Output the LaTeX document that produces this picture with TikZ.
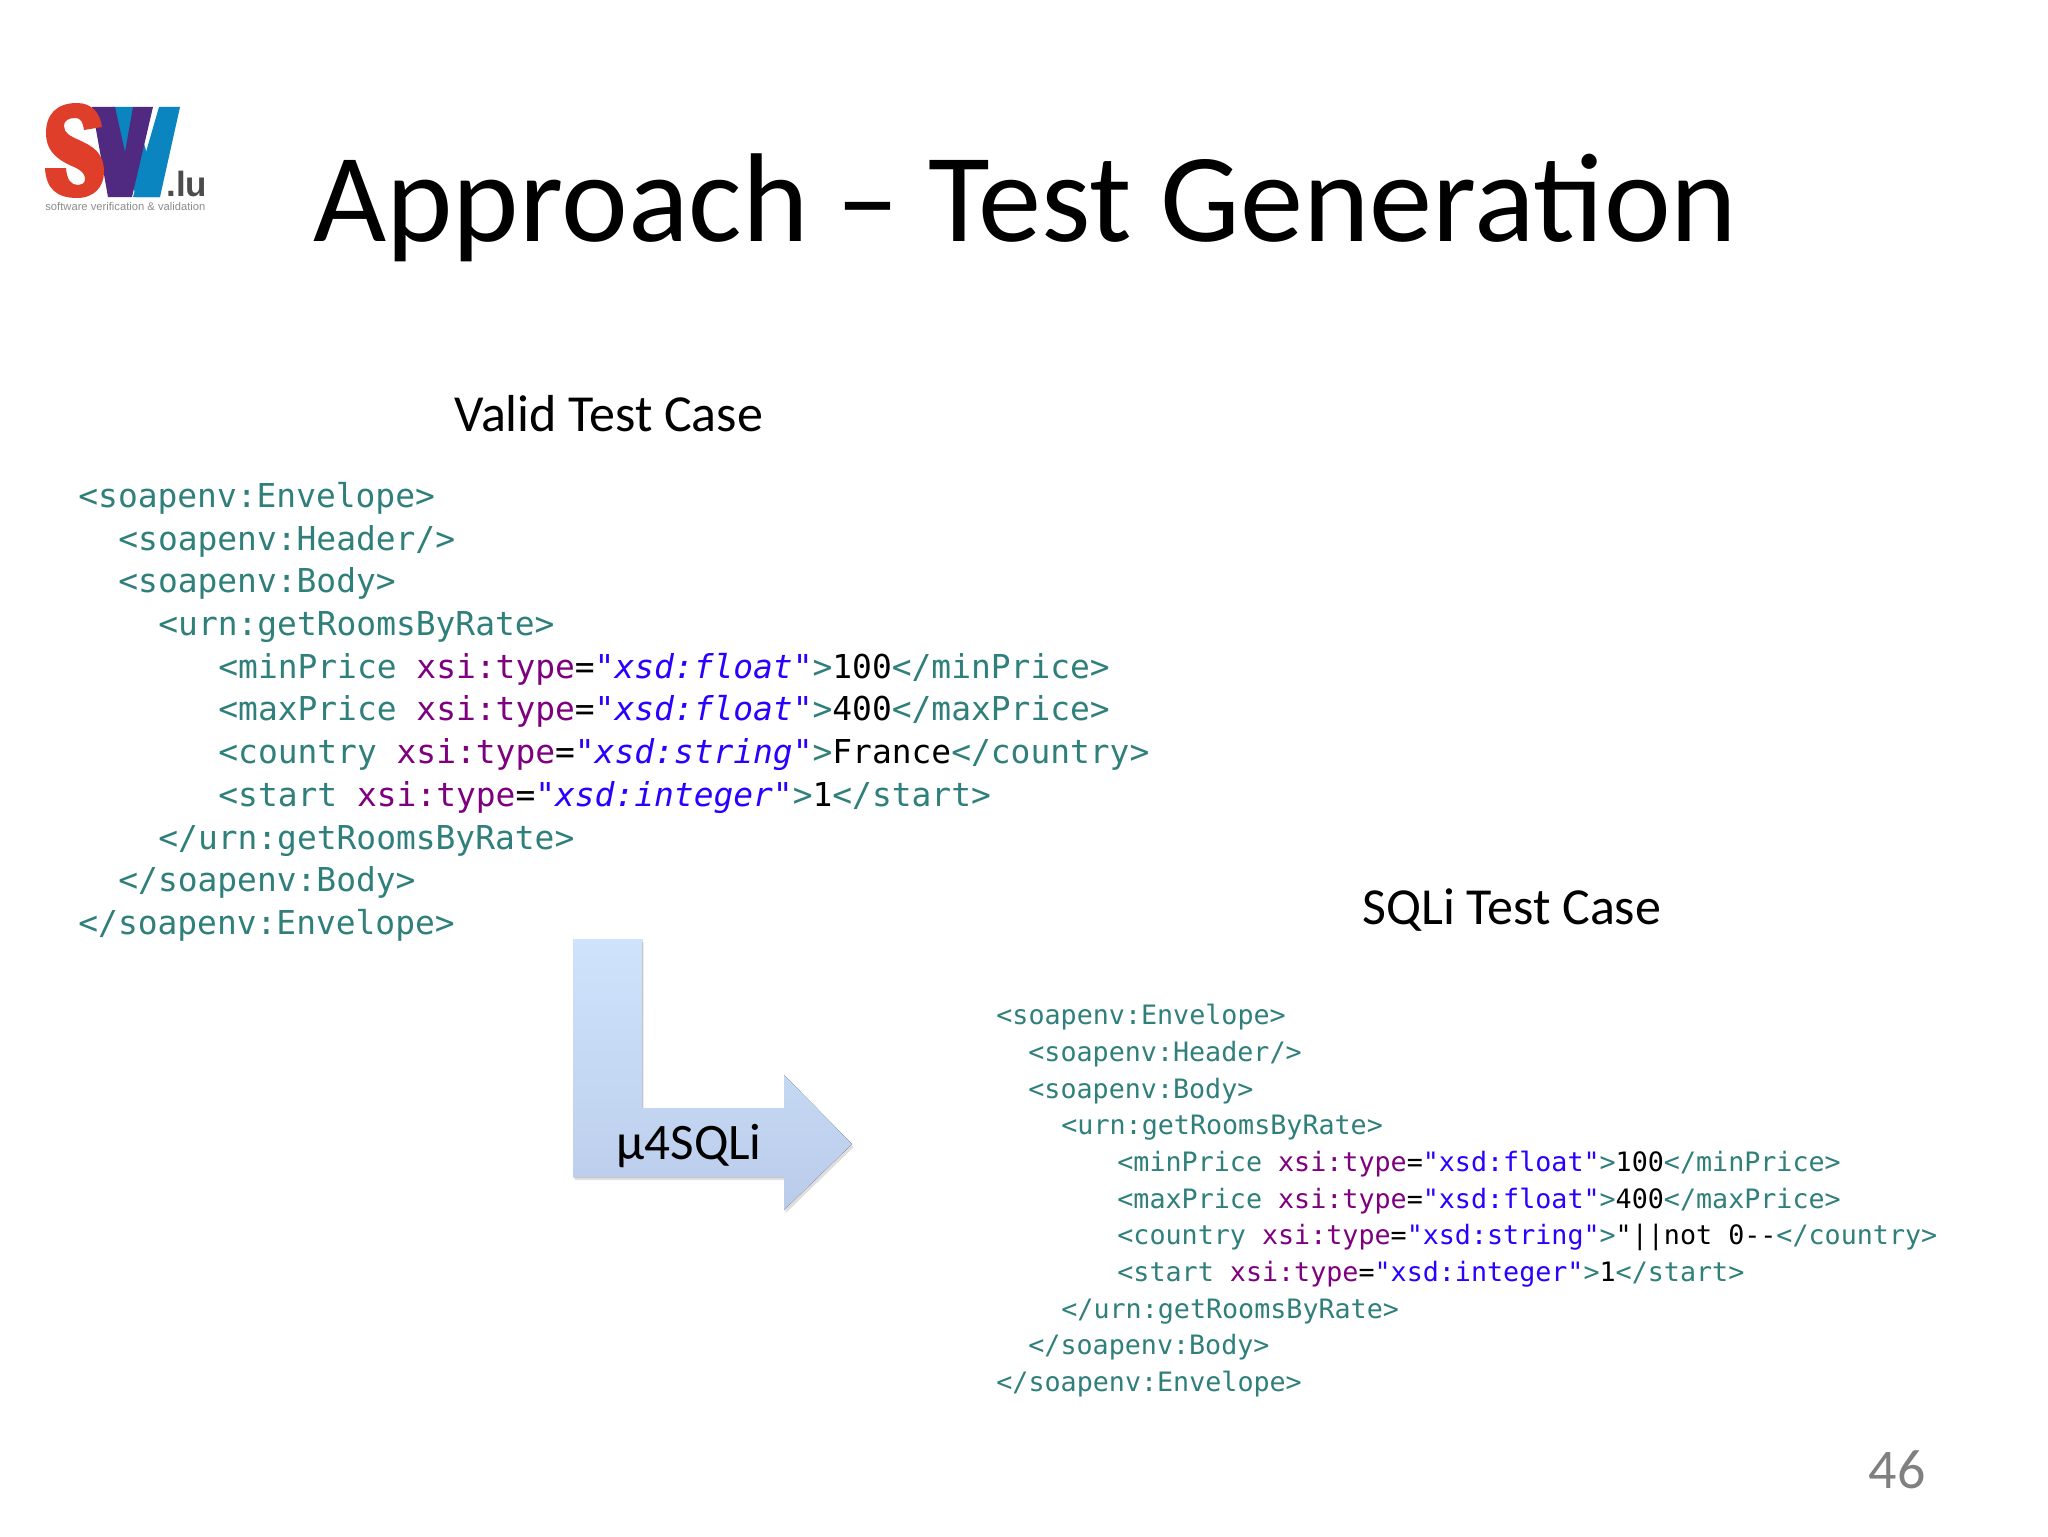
\documentclass[tikz,border=0pt]{standalone}
\usepackage{fontspec}
\usepackage{xcolor}
\setmainfont{Carlito}
\setsansfont{Liberation Sans}
\setmonofont{DejaVu Sans Mono}
\usetikzlibrary{shadows}
\definecolor{tagc}{HTML}{2F7F7A}
\definecolor{attc}{HTML}{7F007F}
\definecolor{valc}{HTML}{2A00FF}
\definecolor{logored}{HTML}{DF3F2A}
\definecolor{logopur}{HTML}{4F2A80}
\definecolor{logoblu}{HTML}{0A85C0}
\definecolor{arrtop}{HTML}{CFE3FC}
\definecolor{arrbot}{HTML}{BACCEA}
\newcommand{\tg}[1]{\textcolor{tagc}{#1}}
\newcommand{\at}[1]{\textcolor{attc}{#1}}
\newcommand{\vl}[1]{\textcolor{valc}{#1}}
\newcommand{\vi}[1]{\textcolor{valc}{\itshape #1}}
\tikzset{
  bigcode/.style={anchor=base west,inner sep=0pt,font=\fontsize{16.45}{16.45}\selectfont\ttfamily},
  smallcode/.style={anchor=base west,inner sep=0pt,font=\fontsize{13.35}{13.35}\selectfont\ttfamily},
  heading/.style={anchor=base west,inner sep=0pt,font=\fontsize{26}{26}\selectfont},
}
\begin{document}
\begin{tikzpicture}[x=.5pt,y=-.5pt]
   \useasboundingbox (0,0) rectangle (2048,1536);
   \fill[white] (0,0) rectangle (2048,1536);

   % logo
   \fill[logoblu] (113,107) -- (133,107) -- (160,197) -- (136,197) -- cycle;
   \fill[logoblu] (159,107) -- (180,107) -- (160,197) -- (133,197) -- cycle;
   \fill[logopur] (92,107) -- (115,107) -- (125,152) -- (133,107) -- (153,107)
      -- (132,197) -- (108,197) -- cycle;
   \fill[logored] (77,103) .. controls (56,103) and (46,115) .. (46,133)
      .. controls (46,153) and (60,161) .. (74,167) .. controls (83,171) and (85,175) .. (85,179)
      .. controls (85,184) and (81,185) .. (78,185) .. controls (71,185) and (67,180) .. (66,168)
      -- (45,168) .. controls (46,188) and (56,198) .. (77,198)
      .. controls (94,198) and (104,187) .. (104,172)
      .. controls (104,152) and (92,146) .. (79,140) .. controls (70,136) and (64,133) .. (64,126)
      .. controls (64,121) and (68,118) .. (75,118) .. controls (82,118) and (83,124) .. (84,130)
      -- (102,127) .. controls (100,113) and (92,103) .. (77,103) -- cycle;
   \node[anchor=base west,inner sep=0pt,text=black!70,font=\fontsize{17.5}{17.5}\selectfont\sffamily\bfseries] (lu) at (166,196) {.lu};
   \node[anchor=base west,inner sep=0pt,text=black!45,font=\fontsize{5.6}{5.6}\selectfont\sffamily] (sv) at (45,210) {software verification \& validation};

   \node[anchor=base west,inner sep=0pt,font=\fontsize{63.2}{63.2}\selectfont] (title) at (313,241) {Approach – Test Generation};

   \node[heading] (valid) at (454,431) {Valid Test Case};
   \node[heading] (sqli) at (1362,924) {SQLi Test Case};

   % valid test case
   \node[bigcode] (v1) at (78,507) {\tg{<soapenv:Envelope>}};
   \node[bigcode] (v2) at (118,550) {\tg{<soapenv:Header/>}};
   \node[bigcode] (v3) at (118,592) {\tg{<soapenv:Body>}};
   \node[bigcode] (v4) at (158,635) {\tg{<urn:getRoomsByRate>}};
   \node[bigcode] (v5) at (218,678) {\tg{<minPrice} \at{xsi:type}=\vi{"xsd:float"}\tg{>}100\tg{</minPrice>}};
   \node[bigcode] (v6) at (218,720) {\tg{<maxPrice} \at{xsi:type}=\vi{"xsd:float"}\tg{>}400\tg{</maxPrice>}};
   \node[bigcode] (v7) at (218,763) {\tg{<country} \at{xsi:type}=\vi{"xsd:string"}\tg{>}France\tg{</country>}};
   \node[bigcode] (v8) at (218,806) {\tg{<start} \at{xsi:type}=\vi{"xsd:integer"}\tg{>}1\tg{</start>}};
   \node[bigcode] (v9) at (158,849) {\tg{</urn:getRoomsByRate>}};
   \node[bigcode] (v10) at (118,891) {\tg{</soapenv:Body>}};
   \node[bigcode] (v11) at (78,934) {\tg{</soapenv:Envelope>}};

   % sqli test case
   \node[smallcode] (s1) at (996,1024) {\tg{<soapenv:Envelope>}};
   \node[smallcode] (s2) at (1028,1061) {\tg{<soapenv:Header/>}};
   \node[smallcode] (s3) at (1028,1098) {\tg{<soapenv:Body>}};
   \node[smallcode] (s4) at (1061,1134) {\tg{<urn:getRoomsByRate>}};
   \node[smallcode] (s5) at (1117,1171) {\tg{<minPrice} \at{xsi:type}=\vl{"xsd:float"}\tg{>}100\tg{</minPrice>}};
   \node[smallcode] (s6) at (1117,1208) {\tg{<maxPrice} \at{xsi:type}=\vl{"xsd:float"}\tg{>}400\tg{</maxPrice>}};
   \node[smallcode] (s7) at (1117,1244) {\tg{<country} \at{xsi:type}=\vl{"xsd:string"}\tg{>}"||not 0--\tg{</country>}};
   \node[smallcode] (s8) at (1117,1281) {\tg{<start} \at{xsi:type}=\vl{"xsd:integer"}\tg{>}1\tg{</start>}};
   \node[smallcode] (s9) at (1061,1318) {\tg{</urn:getRoomsByRate>}};
   \node[smallcode] (s10) at (1028,1354) {\tg{</soapenv:Body>}};
   \node[smallcode] (s11) at (996,1391) {\tg{</soapenv:Envelope>}};

   % bent arrow
   \fill[top color=arrtop,bottom color=arrbot,
      drop shadow={shadow xshift=.8pt,shadow yshift=-1.6pt,opacity=.25}]
      (573,939) -- (642,939) -- (642,1108) -- (784,1108) -- (784,1075) -- (852,1144)
      -- (784,1210) -- (784,1177) -- (573,1177) -- cycle;
   \node[anchor=base west,inner sep=0pt,font=\fontsize{25.6}{25.6}\selectfont] (mu) at (616,1159) {µ4SQLi};

   \node[anchor=base east,inner sep=0pt,text=black!50,font=\fontsize{28}{28}\selectfont] (page) at (1926,1488) {46};
\end{tikzpicture}
\end{document}
